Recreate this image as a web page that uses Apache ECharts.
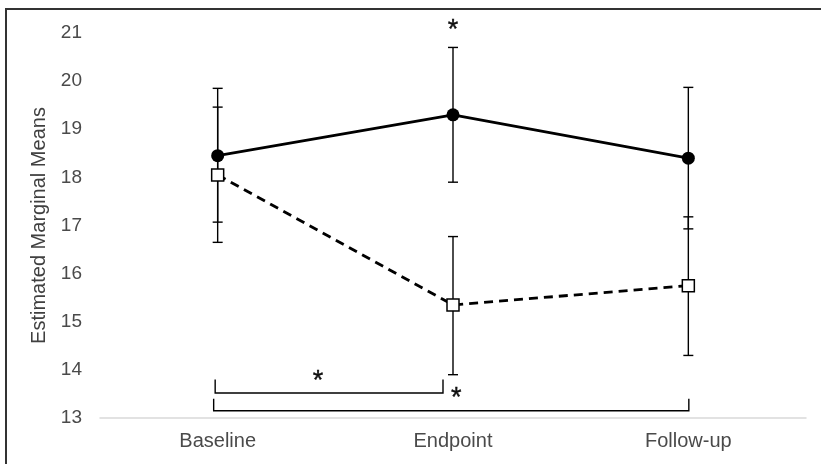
<!DOCTYPE html>
<html>
<head>
<meta charset="utf-8">
<script src="https://cdn.jsdelivr.net/npm/echarts@6/dist/echarts.min.js"></script>
<style>
html,body{margin:0;padding:0;background:#fff;}
#chart{width:821px;height:464px;}
</style>
</head>
<body>
<div id="chart"></div>
<script>
// ---- data ----
const categories = ['Baseline', 'Endpoint', 'Follow-up'];
const yMin = 13;
const yMax = 21;
const yStep = 1;

const solidMean = [18.45, 19.3, 18.4];
const solidLow  = [17.07, 17.9, 16.93];
const solidHigh = [19.85, 20.7, 19.87];

const dashedMean = [18.05, 15.35, 15.75];
const dashedLow  = [16.65, 13.9, 14.3];
const dashedHigh = [19.46, 16.77, 17.18];

// brackets: [fromCategory, toCategory, barValue, tipValue]
const bracketData = [
  [0, 1, 13.52, 13.8],
  [0, 2, 13.15, 13.4]
];
// asterisks: [category position, value]
const asteriskData = [
  [1.0, 21.17],
  [0.426, 13.89],
  [1.014, 13.54]
];

// ---- chart ----
const chart = echarts.init(document.getElementById('chart'), null, {renderer: 'canvas'});

function errorBarRender() {
  return function (params, api) {
    const i = api.value(0);
    const top = api.coord([i, api.value(2)]);
    const bot = api.coord([i, api.value(1)]);
    const half = 5;
    const st = {stroke: '#000', lineWidth: 1.4};
    return {
      type: 'group',
      children: [
        {type: 'line', shape: {x1: top[0], y1: top[1], x2: bot[0], y2: bot[1]}, style: st},
        {type: 'line', shape: {x1: top[0] - half, y1: top[1], x2: top[0] + half, y2: top[1]}, style: st},
        {type: 'line', shape: {x1: bot[0] - half, y1: bot[1], x2: bot[0] + half, y2: bot[1]}, style: st}
      ]
    };
  };
}

const bracketOffsets = [[-2.5, -10], [-4, 0.5]];

function bracketRender(params, api) {
  const a = api.coord([api.value(0), api.value(2)]);
  const b = api.coord([api.value(1), api.value(2)]);
  const tip = api.coord([api.value(0), api.value(3)]);
  const off = bracketOffsets[params.dataIndex];
  const x1 = a[0] + off[0], x2 = b[0] + off[1];
  const st = {stroke: '#000', lineWidth: 1.4, fill: null};
  return {
    type: 'polyline',
    shape: {points: [[x1, tip[1]], [x1, a[1]], [x2, a[1]], [x2, tip[1]]]},
    style: st
  };
}

function asteriskRender(params, api) {
  const pos = api.value(0);
  const i0 = Math.floor(pos);
  const p0 = api.coord([i0, api.value(1)]);
  const p1 = api.coord([Math.min(i0 + 1, categories.length - 1), api.value(1)]);
  const x = p0[0] + (pos - i0) * (i0 + 1 < categories.length ? (p1[0] - p0[0]) : 0);
  const fs = 27;
  return {
    type: 'text',
    x: x,
    y: p0[1] + fs * 0.23,
    style: {text: '*', fontSize: fs, fontFamily: 'Liberation Sans, Arial', fill: '#111', align: 'center', verticalAlign: 'middle', stroke: '#111', lineWidth: 0.4}
  };
}

const option = {
  animation: false,
  backgroundColor: '#fff',
  grid: {left: 100, right: 15, top: 33, bottom: 46, containLabel: false},
  graphic: [{
    type: 'rect',
    shape: {x: 6, y: 9, width: 830, height: 470},
    style: {fill: null, stroke: '#333', lineWidth: 2},
    silent: true
  }],
  xAxis: {
    type: 'category',
    data: categories,
    boundaryGap: true,
    axisLine: {lineStyle: {color: '#d9d9d9', width: 1.5}},
    axisTick: {show: false},
    axisLabel: {color: '#4a4a4a', fontSize: 20, fontFamily: 'Liberation Sans, Arial', margin: 13},
    splitLine: {show: false}
  },
  yAxis: {
    type: 'value',
    min: yMin,
    max: yMax,
    interval: yStep,
    name: 'Estimated Marginal Means',
    nameLocation: 'middle',
    nameGap: 47,
    nameTextStyle: {color: '#404040', fontSize: 20, fontFamily: 'Liberation Sans, Arial'},
    axisLine: {show: false},
    axisTick: {show: false},
    axisLabel: {color: '#4a4a4a', fontSize: 19, fontFamily: 'Liberation Sans, Arial', margin: 18},
    splitLine: {show: false}
  },
  series: [
    {
      type: 'custom',
      z: 1,
      renderItem: errorBarRender(),
      data: categories.map((c, i) => [i, solidLow[i], solidHigh[i]]),
      clip: false
    },
    {
      type: 'custom',
      z: 1,
      renderItem: errorBarRender(),
      data: categories.map((c, i) => [i, dashedLow[i], dashedHigh[i]]),
      clip: false
    },
    {
      type: 'line',
      z: 3,
      data: solidMean,
      symbol: 'circle',
      symbolSize: 13,
      itemStyle: {color: '#000'},
      lineStyle: {color: '#000', width: 2.8},
      silent: true
    },
    {
      type: 'line',
      z: 3,
      data: dashedMean,
      symbol: 'rect',
      symbolSize: 12,
      showAllSymbol: true,
      itemStyle: {color: '#fff', borderColor: '#000', borderWidth: 1.5, opacity: 1},
      lineStyle: {color: '#000', width: 2.8, type: [9, 6]},
      silent: true
    },
    {
      type: 'custom',
      z: 2,
      renderItem: bracketRender,
      data: bracketData,
      clip: false
    },
    {
      type: 'custom',
      z: 4,
      renderItem: asteriskRender,
      data: asteriskData,
      clip: false
    }
  ]
};
chart.setOption(option);
</script>
</body>
</html>
